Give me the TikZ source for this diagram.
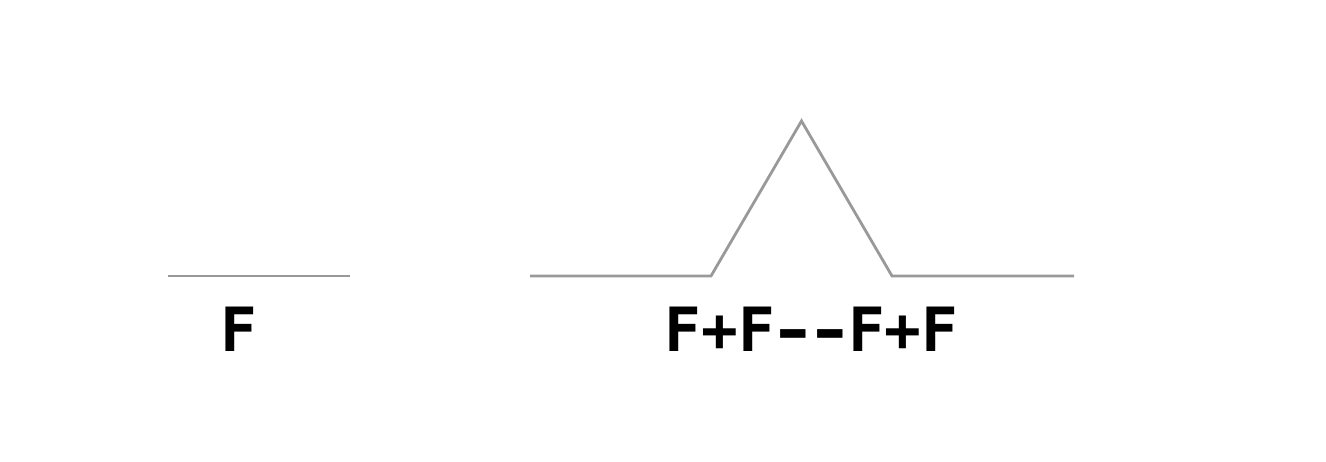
\documentclass[tikz,border=0pt]{standalone}
\usepackage{fontspec}
\usepackage{graphicx}
\newfontfamily\monob{DejaVu Sans Mono}
\definecolor{linegray}{HTML}{999999}
\newcommand\wdash{\makebox[0.602em]{\scalebox{1.35}[1]{-}}}
\begin{document}
\begin{tikzpicture}[x=1pt,y=1pt,
  curve/.style={draw=linegray,line width=2.8pt,line join=miter},
  lab/.style={anchor=base,inner sep=0pt,font=\monob\bfseries\fontsize{61}{61}\selectfont}]
\useasboundingbox (0,0) rectangle (1326,462);
\coordinate (a0) at (168,186);
\coordinate (a1) at (350,186);
\draw[curve] (a0) -- (a1);
\coordinate (b0) at (530,186);
\coordinate (b1) at (711,186);
\coordinate (b2) at (801.5,341);
\coordinate (b3) at (892,186);
\coordinate (b4) at (1074,186);
\draw[curve] (b0) -- (b1) -- (b2) -- (b3) -- (b4);
\node[lab] (l1) at (239,110) {F};
\node[lab] (l2) at (811.5,110) {F+F\wdash\wdash F+F};
\end{tikzpicture}
\end{document}
